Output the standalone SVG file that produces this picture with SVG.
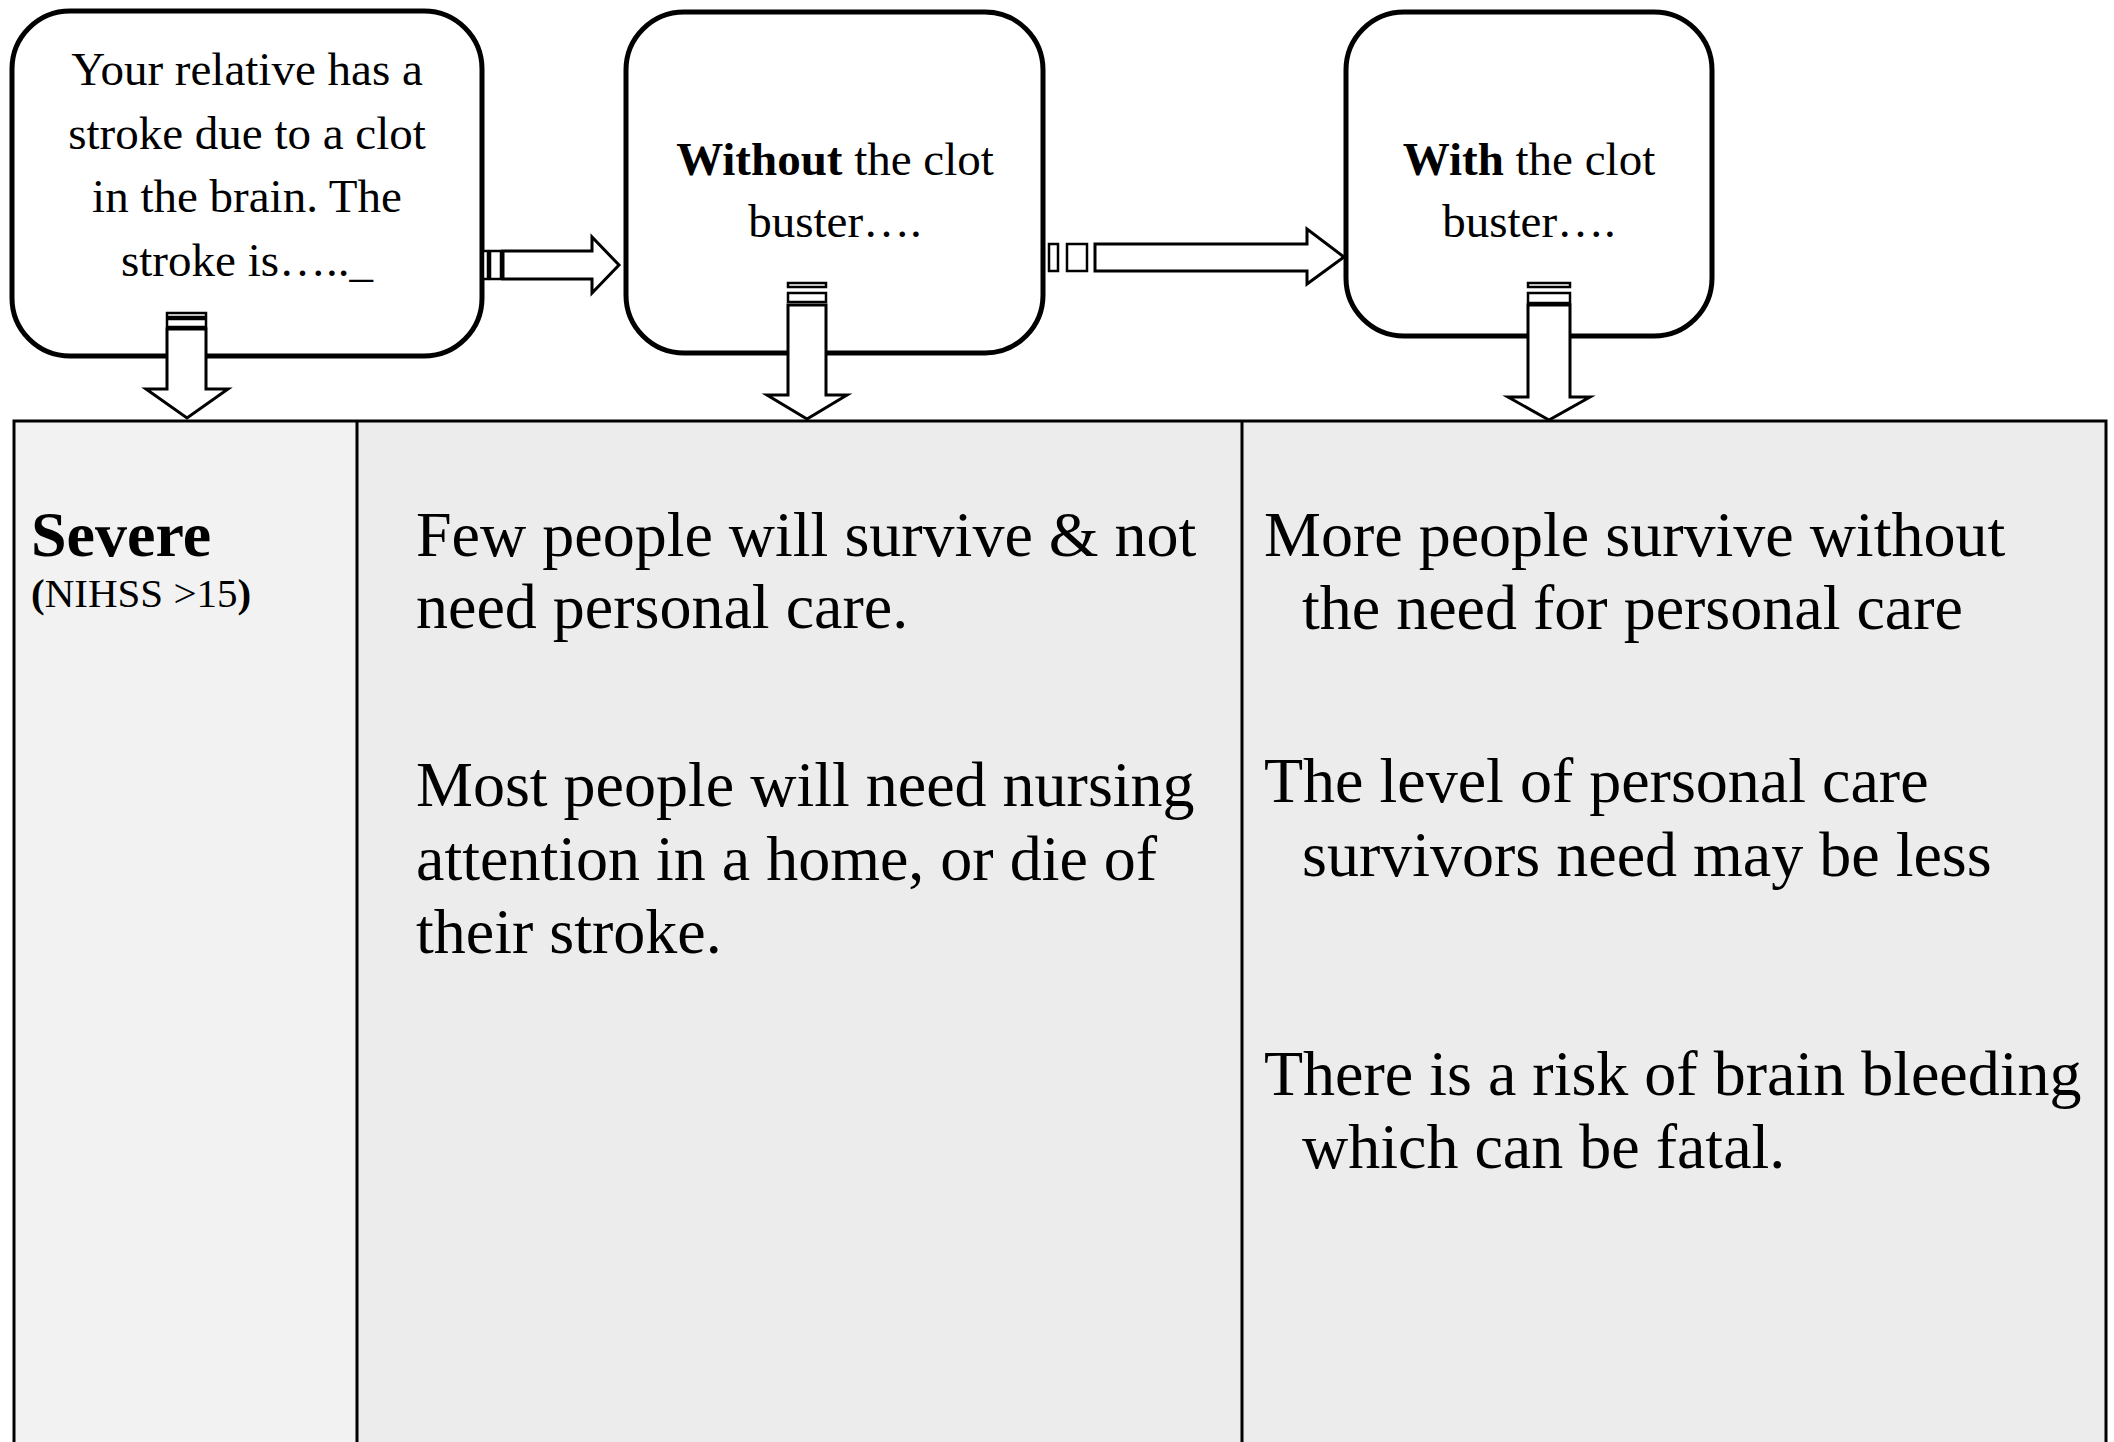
<svg xmlns="http://www.w3.org/2000/svg" width="2114" height="1442" viewBox="0 0 2114 1442">
<style>
  .box { fill: #ffffff; stroke: #000000; stroke-width: 5; }
  .arrow { fill: #ffffff; stroke: #000000; stroke-width: 3; stroke-linejoin: miter; }
  .stripe { fill: #ffffff; stroke: #000000; stroke-width: 2.5; }
  .cell { stroke: none; }
  .grid { stroke: #000000; stroke-width: 3; fill: none; }
  .bt { font-family: "Liberation Serif", "Times New Roman", serif; font-size: 47px; fill: #000000; text-anchor: middle; }
  .tt { font-family: "Liberation Serif", "Times New Roman", serif; font-size: 64px; fill: #000000; }
  .b { font-weight: bold; }
</style>
<rect x="0" y="0" width="2114" height="1442" fill="#ffffff"/>

<g id="table">
  <rect class="cell" x="14" y="421" width="343" height="1021" fill="#f2f2f2"/>
  <rect class="cell" x="357" y="421" width="885" height="1021" fill="#ececec"/>
  <rect class="cell" x="1242" y="421" width="864" height="1021" fill="#ececec"/>
  <path class="grid" d="M14,1442 V421 H2106 V1442 M357,421 V1442 M1242,421 V1442"/>
</g>

<g id="node-stroke">
  <rect class="box" x="12" y="11" width="470" height="345" rx="58" ry="58"/>
  <text class="bt" x="247" y="85">Your relative has a</text>
  <text class="bt" x="247" y="149">stroke due to a clot</text>
  <text class="bt" x="247" y="212">in the brain. The</text>
  <text class="bt" x="247" y="276">stroke is….._</text>
</g>

<g id="node-without">
  <rect class="box" x="626" y="12" width="417" height="341" rx="58" ry="58"/>
  <text class="bt" x="835" y="175"><tspan class="b">Without</tspan> the clot</text>
  <text class="bt" x="835" y="237">buster….</text>
</g>

<g id="node-with">
  <rect class="box" x="1346" y="12" width="366" height="324" rx="58" ry="58"/>
  <text class="bt" x="1529" y="175"><tspan class="b">With</tspan> the clot</text>
  <text class="bt" x="1529" y="237">buster….</text>
</g>

<g id="connectors">
  <!-- box1 -> box2 -->
  <rect class="stripe" x="483" y="251" width="5" height="28"/>
  <rect class="stripe" x="490" y="251" width="11" height="28"/>
  <polygon class="arrow" points="503,251 592,251 592,237 619,265 592,293 592,279 503,279"/>
  <!-- box2 -> box3 -->
  <rect class="stripe" x="1049" y="244" width="9" height="27"/>
  <rect class="stripe" x="1067" y="244" width="20" height="27"/>
  <polygon class="arrow" points="1095,244 1307,244 1307,229 1344,257 1307,284 1307,271 1095,271"/>
  <!-- box1 down -->
  <rect class="stripe" x="167" y="313" width="39" height="4"/>
  <rect class="stripe" x="167" y="319" width="39" height="8"/>
  <polygon class="arrow" points="167,329 206,329 206,389 228,389 187,418 146,389 167,389"/>
  <!-- box2 down -->
  <rect class="stripe" x="788" y="283" width="38" height="4"/>
  <rect class="stripe" x="788" y="293" width="38" height="9"/>
  <polygon class="arrow" points="788,305 826,305 826,395 847,395 807,419 767,395 788,395"/>
  <!-- box3 down -->
  <rect class="stripe" x="1528" y="283" width="42" height="4"/>
  <rect class="stripe" x="1528" y="293" width="42" height="10"/>
  <polygon class="arrow" points="1528,305 1570,305 1570,397 1590,397 1549,420 1508,397 1528,397"/>
</g>

<g id="col-severity">
  <text class="tt b" x="31" y="556">Severe</text>
  <text class="tt" x="31" y="607" style="font-size:41px"><tspan class="b">(</tspan>NIHSS &gt;15<tspan class="b">)</tspan></text>
</g>

<g id="col-without">
  <text class="tt" x="416" y="556">Few people will survive &amp; not</text>
  <text class="tt" x="416" y="628">need personal care.</text>
  <text class="tt" x="416" y="806">Most people will need nursing</text>
  <text class="tt" x="416" y="880">attention in a home, or die of</text>
  <text class="tt" x="416" y="953">their stroke.</text>
</g>

<g id="col-with">
  <text class="tt" x="1264" y="556">More people survive without</text>
  <text class="tt" x="1302" y="629">the need for personal care</text>
  <text class="tt" x="1264" y="802">The level of personal care</text>
  <text class="tt" x="1302" y="876">survivors need may be less</text>
  <text class="tt" x="1264" y="1095">There is a risk of brain bleeding</text>
  <text class="tt" x="1302" y="1168">which can be fatal.</text>
</g>
</svg>
